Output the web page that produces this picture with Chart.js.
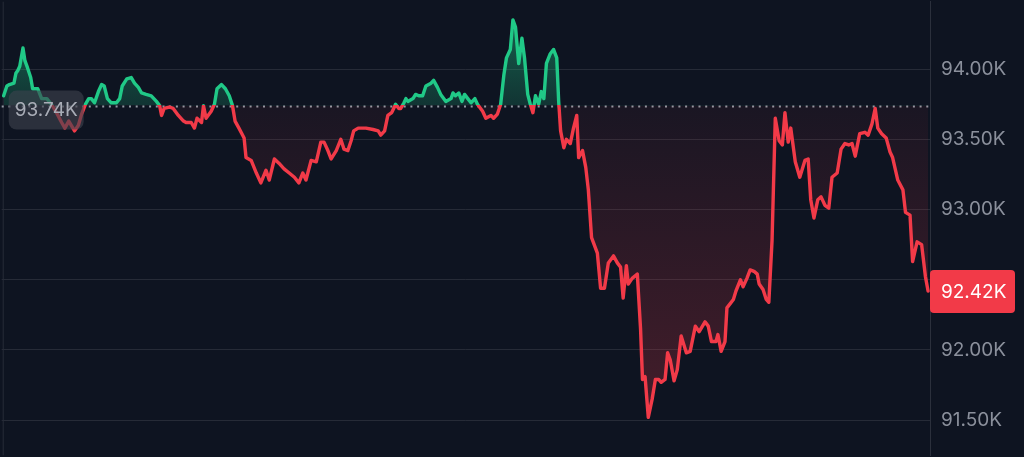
<!DOCTYPE html>
<html>
<head>
<meta charset="utf-8">
<script src="https://cdn.jsdelivr.net/npm/chart.js@4.4.1/dist/chart.umd.min.js"></script>
<style>
  html, body { margin: 0; padding: 0; background: #0e1421; }
  #wrap { width: 1024px; height: 457px; position: relative; }
</style>
</head>
<body>
<div id="wrap"><canvas id="chart"></canvas></div>
<script>
// minutes since start of the window
const times = [
  3, 8, 12, 19, 22, 25, 28, 33, 36, 40,
  45, 48, 56, 62, 70, 77, 85, 93, 98, 104,
  113, 119, 124, 130, 135, 139, 144, 150, 155, 159,
  164, 170, 178, 183, 187, 194, 201, 206, 212, 217,
  224, 232, 240, 245, 248, 252, 260, 266, 274, 282,
  286, 294, 299, 303, 310, 313, 317, 325, 330, 334,
  341, 347, 353, 358, 362, 368, 376, 379, 387, 395,
  402, 410, 415, 423, 430, 438, 446, 454, 461, 467,
  472, 480, 488, 495, 500, 506, 511, 519, 526, 531,
  537, 542, 546, 553, 557, 565, 576, 584, 588, 594,
  599, 605, 608, 611, 616, 619, 624, 627, 630, 638,
  642, 647, 653, 658, 666, 670, 676, 681, 689, 697,
  700, 704, 709, 714, 718, 723, 728, 734, 738, 746,
  751, 759, 763, 769, 774, 779, 783, 789, 793, 797,
  802, 807, 811, 816, 820, 824, 828, 833, 837, 841,
  845, 851, 856, 861, 864, 867, 872, 876, 882, 887,
  892, 895, 901, 906, 910, 915, 924, 929, 935, 941,
  949, 955, 960, 964, 969, 972, 978, 986, 991, 994,
  998, 1003, 1009, 1014, 1019, 1023, 1029, 1033, 1037, 1043,
  1048, 1054, 1062, 1068, 1076, 1082, 1091, 1096, 1101, 1108,
  1111, 1116, 1122, 1125, 1135, 1139, 1146, 1150, 1156, 1161,
  1167, 1172, 1175, 1181, 1186, 1190, 1195, 1200, 1206, 1211,
  1215, 1220, 1224, 1231, 1238, 1246, 1251, 1255, 1260, 1266,
  1271, 1277, 1283, 1288, 1296, 1302, 1308, 1314, 1319, 1324,
  1331, 1339, 1344, 1350, 1355, 1359, 1365, 1372, 1378, 1382,
  1390, 1398, 1402, 1409, 1413, 1420, 1427, 1433, 1437
];

// price in thousands
const prices = [
  93.81, 93.88, 93.89, 93.90, 93.97, 93.99, 94.02, 94.15, 94.06, 94.01,
  93.94, 93.86, 93.86, 93.79, 93.79, 93.75, 93.69, 93.62, 93.58, 93.63,
  93.56, 93.60, 93.68, 93.75, 93.79, 93.79, 93.76, 93.84, 93.89, 93.88,
  93.79, 93.76, 93.76, 93.79, 93.88, 93.93, 93.94, 93.90, 93.87, 93.83,
  93.82, 93.81, 93.77, 93.74, 93.67, 93.72, 93.73, 93.72, 93.67, 93.63,
  93.62, 93.62, 93.58, 93.65, 93.62, 93.74, 93.65, 93.70, 93.75, 93.86,
  93.89, 93.86, 93.81, 93.74, 93.63, 93.58, 93.51, 93.37, 93.35, 93.26,
  93.19, 93.28, 93.21, 93.36, 93.33, 93.29, 93.26, 93.23, 93.19, 93.26,
  93.21, 93.35, 93.34, 93.48, 93.48, 93.42, 93.36, 93.42, 93.50, 93.43,
  93.42, 93.49, 93.56, 93.58, 93.58, 93.58, 93.57, 93.56, 93.53, 93.56,
  93.67, 93.69, 93.72, 93.75, 93.72, 93.72, 93.76, 93.79, 93.77, 93.79,
  93.82, 93.81, 93.81, 93.88, 93.90, 93.92, 93.87, 93.82, 93.77, 93.79,
  93.83, 93.81, 93.83, 93.77, 93.82, 93.79, 93.76, 93.79, 93.75, 93.70,
  93.65, 93.67, 93.65, 93.68, 93.75, 93.96, 94.08, 94.14, 94.35, 94.30,
  94.04, 94.22, 94.08, 93.82, 93.75, 93.69, 93.81, 93.75, 93.84, 93.79,
  94.04, 94.11, 94.14, 94.08, 93.77, 93.56, 93.44, 93.50, 93.47, 93.58,
  93.67, 93.37, 93.42, 93.30, 93.14, 92.80, 92.69, 92.44, 92.44, 92.62,
  92.67, 92.62, 92.59, 92.37, 92.60, 92.47, 92.51, 92.54, 92.15, 91.79,
  91.81, 91.52, 91.65, 91.79, 91.79, 91.77, 91.79, 91.98, 91.93, 91.78,
  91.86, 92.10, 91.98, 91.99, 92.17, 92.13, 92.20, 92.17, 92.06, 92.06,
  92.11, 91.99, 92.06, 92.30, 92.36, 92.42, 92.50, 92.45, 92.51, 92.57,
  92.56, 92.54, 92.47, 92.43, 92.36, 92.34, 92.78, 93.65, 93.49, 93.46,
  93.69, 93.48, 93.58, 93.34, 93.23, 93.35, 93.36, 93.07, 92.94, 93.07,
  93.09, 93.03, 93.01, 93.23, 93.26, 93.43, 93.47, 93.46, 93.47, 93.38,
  93.54, 93.55, 93.53, 93.61, 93.72, 93.58, 93.54, 93.51, 93.41, 93.37,
  93.21, 93.14, 92.98, 92.96, 92.63, 92.77, 92.75, 92.52, 92.42
];

const yTicks = [91.5, 92, 92.5, 93, 93.5, 94];
const baseline = 93.74;   // reference (opening) price
const lastPrice = prices[prices.length - 1];

const GREEN = '#20c987';
const RED = '#f23a48';
const fmt = v => v.toFixed(2) + 'K';

// dotted baseline, edge line and the two price badges
const overlay = {
    id: 'overlay',
    beforeDraw(chart) {
        const { ctx, width, height } = chart;
        ctx.save();
        ctx.fillStyle = '#0e1421';
        ctx.fillRect(0, 0, width, height);
        ctx.restore();
    },
    beforeDatasetsDraw(chart) {
        const { ctx, chartArea: a, scales: { y } } = chart;
        const by = Math.round(y.getPixelForValue(baseline)) + 0.5;
        ctx.save();
        // left edge line
        ctx.strokeStyle = '#272c38';
        ctx.lineWidth = 1;
        ctx.beginPath();
        ctx.moveTo(a.left + 1.5, a.top);
        ctx.lineTo(a.left + 1.5, a.bottom);
        ctx.stroke();
        // dotted baseline
        ctx.strokeStyle = 'rgba(180,185,195,0.8)';
        ctx.lineWidth = 2;
        ctx.setLineDash([2, 4.7]);
        ctx.beginPath();
        ctx.moveTo(a.left, by);
        ctx.lineTo(a.right, by);
        ctx.stroke();
        ctx.restore();
    },
    afterDraw(chart) {
        const { ctx, chartArea: a, scales: { y } } = chart;
        ctx.save();
        ctx.font = '19px Inter';
        ctx.textBaseline = 'middle';

        // baseline badge on the left
        const by = y.getPixelForValue(baseline);
        ctx.fillStyle = 'rgba(62,66,78,0.62)';
        ctx.beginPath();
        ctx.roundRect(a.left + 7, by - 15, 75, 39, 8);
        ctx.fill();
        ctx.fillStyle = '#a9adb7';
        ctx.textAlign = 'center';
        ctx.fillText(fmt(baseline), a.left + 44.5, by + 4.5);

        // last price badge on the axis
        const ly = y.getPixelForValue(lastPrice);
        ctx.fillStyle = RED;
        ctx.beginPath();
        ctx.roundRect(a.right, ly - 21, 85, 43, 4);
        ctx.fill();
        ctx.fillStyle = '#ffffff';
        ctx.textAlign = 'left';
        ctx.fillText(fmt(lastPrice), a.right + 11, ly + 1);
        ctx.restore();
    }
};

const chart = new Chart(document.getElementById('chart'), {
    type: 'line',
    data: {
        datasets: [{
            data: times.map((t, i) => ({ x: t, y: prices[i] })),
            borderColor: RED,
            borderWidth: 3.4,
            borderJoinStyle: 'round',
            borderCapStyle: 'round',
            pointRadius: 0,
            tension: 0,
            fill: { target: { value: baseline }, above: 'rgba(32,201,135,0.3)', below: 'rgba(242,58,72,0.12)' }
        }]
    },
    options: {
        responsive: true,
        maintainAspectRatio: false,
        animation: false,
        layout: { padding: 0 },
        plugins: { legend: { display: false }, tooltip: { enabled: false } },
        scales: {
            x: { type: 'linear', min: 0, max: 1440, display: false },
            y: {
                position: 'right',
                min: 91.25,
                max: 94.48,
                afterBuildTicks: s => { s.ticks = yTicks.map(v => ({ value: v })); },
                afterFit: s => { s.width = 94; s.paddingTop = 0; s.paddingBottom = 0; },
                grid: { color: '#262b37', lineWidth: 1, drawTicks: false },
                border: { display: true, color: '#2b303c' },
                ticks: {
                    color: '#8b909c',
                    padding: 11,
                    font: { family: 'Inter', size: 19 },
                    callback: v => fmt(v)
                }
            }
        }
    },
    plugins: [overlay]
});

// gradients need the laid-out chart area
(function applyGradients() {
    const { ctx, chartArea: a, scales: { y } } = chart;
    const by = y.getPixelForValue(baseline);
    const p = Math.min(Math.max((by - a.top) / (a.bottom - a.top), 0), 1);

    const line = ctx.createLinearGradient(0, a.top, 0, a.bottom);
    line.addColorStop(0, GREEN);
    line.addColorStop(p, GREEN);
    line.addColorStop(p, RED);
    line.addColorStop(1, RED);

    const up = ctx.createLinearGradient(0, y.getPixelForValue(Math.max(...prices)), 0, by);
    up.addColorStop(0, 'rgba(32,201,135,0.42)');
    up.addColorStop(1, 'rgba(32,201,135,0.18)');

    const down = ctx.createLinearGradient(0, by, 0, y.getPixelForValue(Math.min(...prices)));
    down.addColorStop(0, 'rgba(242,58,72,0.05)');
    down.addColorStop(1, 'rgba(242,58,72,0.24)');

    const ds = chart.data.datasets[0];
    ds.borderColor = line;
    ds.fill = { target: { value: baseline }, above: up, below: down };
    chart.update('none');
})();
</script>
</body>
</html>
